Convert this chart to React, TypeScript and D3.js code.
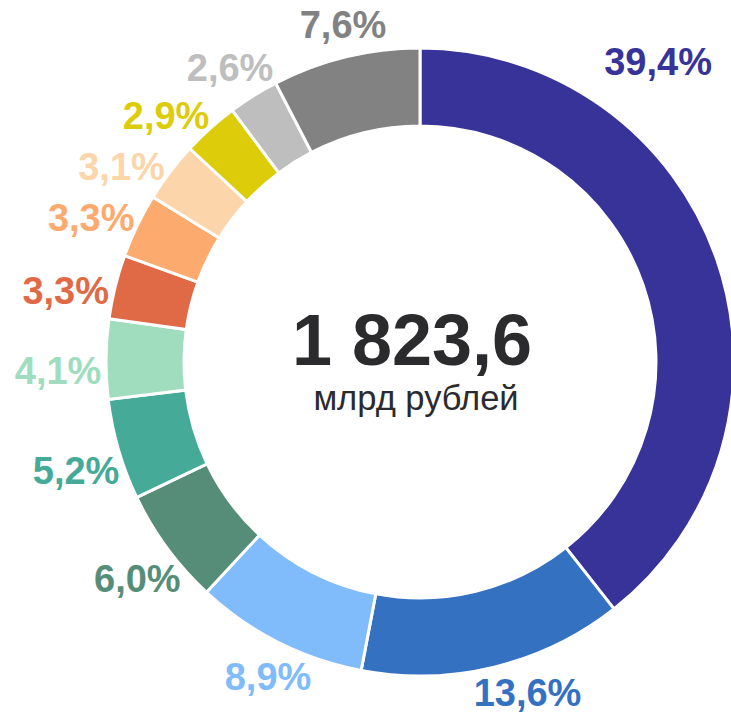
import React from "react";
import * as d3 from "d3";

const shares = [39.4, 13.6, 8.9, 6.0, 5.2, 4.1, 3.3, 3.3, 3.1, 2.9, 2.6, 7.6];
const labels = ["39,4%", "13,6%", "8,9%", "6,0%", "5,2%", "4,1%", "3,3%", "3,3%", "3,1%", "2,9%", "2,6%", "7,6%"];
const colors = [
  "#383398", "#3571c1", "#80bbfb", "#568d78", "#45aa98", "#a0dcbe",
  "#e06a46", "#fdaa6e", "#fdd5aa", "#dccc0a", "#bebebe", "#828282",
];
const totalText = "1 823,6";
const unitText = "млрд рублей";

// layout: label angle nudge (degrees from slice mid-angle) and radial scale
const labelNudgeDeg = [-33.8, -3.6, -2, -2.3, -2, -2, -2, -1, -2.8, -2.6, 0.4, 1.4];
const labelRadialScale = [1.09, 1, 1, 1, 1, 1, 1, 1, 1, 1, 1, 1];

const W = 731;
const H = 719;
const cx = 420;
const cy = 362;
const outerR = 314;
const innerR = 236;
const labelRx = 362;
const labelRy = 346;
const labelFs = 38;

export default function App() {
  const pie = d3.pie<number>().sort(null).value((d) => d);
  const arcs = pie(shares);
  const arc = d3.arc<d3.PieArcDatum<number>>().innerRadius(innerR).outerRadius(outerR);
  const deg = Math.PI / 180;

  const labelPos = (a: d3.PieArcDatum<number>, i: number) => {
    const ang = (a.startAngle + a.endAngle) / 2 + labelNudgeDeg[i] * deg;
    const s = labelRadialScale[i];
    return [cx + labelRx * s * Math.sin(ang), cy - labelRy * s * Math.cos(ang)];
  };

  return (
    <svg width={W} height={H} style={{ position: "absolute", left: 0, top: 0, background: "#fff" }}>
      <g transform={`translate(${cx},${cy})`}>
        {arcs.map((a, i) => (
          <path key={i} d={arc(a) || ""} fill={colors[i]} stroke="#fff" strokeWidth={3} />
        ))}
      </g>
      {arcs.map((a, i) => {
        const [x, y] = labelPos(a, i);
        return (
          <text
            key={i}
            x={x}
            y={y + labelFs * 0.358}
            textAnchor="middle"
            fill={colors[i]}
            fontFamily="'Liberation Sans', Arial, sans-serif"
            fontWeight="bold"
            fontSize={labelFs}
          >
            {labels[i]}
          </text>
        );
      })}
      <text
        x={cx - 8}
        y={365}
        textAnchor="middle"
        fill="#2b2b2e"
        fontFamily="'Liberation Sans', Arial, sans-serif"
        fontWeight="bold"
        fontSize={72}
      >
        {totalText}
      </text>
      <text
        x={cx - 4}
        y={410}
        textAnchor="middle"
        fill="#2b2b2e"
        fontFamily="'Liberation Sans', Arial, sans-serif"
        fontSize={34.5}
      >
        {unitText}
      </text>
    </svg>
  );
}
